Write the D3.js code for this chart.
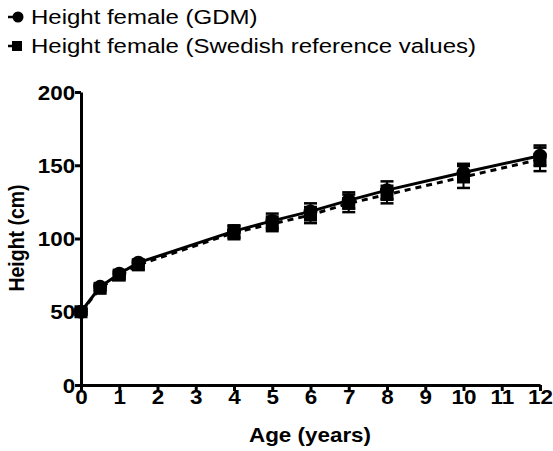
<!DOCTYPE html>
<html><head><meta charset="utf-8">
<script src="https://cdn.jsdelivr.net/npm/d3@7"></script>
<style>body{margin:0;background:#fff}svg{display:block;font-family:"Liberation Sans",Arial,sans-serif}</style>
</head><body>
<script>
const ages = [0, 0.5, 1, 1.5, 4, 5, 6, 7, 8, 10, 12];
const gdmHeight = [50, 67, 76, 83.5, 105, 112, 118.5, 126, 133, 145, 156.5];
const gdmSD = [2, 2, 2, 2, 4, 5, 5.5, 5.5, 6, 6, 7];
const swedHeight = [50, 66, 75, 82, 104, 110, 116, 124, 130, 142, 154];
const swedSD = [2, 2, 2.5, 3, 4.5, 5, 5.5, 6, 6, 7.5, 8];
const xTicks = [0,1,2,3,4,5,6,7,8,9,10,11,12];
const yTicks = [0,50,100,150,200];
const legendLabels = ["Height female (GDM)", "Height female (Swedish reference values)"];

const W = 553, H = 451;
const SX = 1.15;
const svg = d3.select("body").append("svg").attr("width", W).attr("height", H);
const x = d3.scaleLinear().domain([0,12]).range([81,540]);
const y = d3.scaleLinear().domain([0,200]).range([385,92]);

// axes
const xa = svg.append("g").attr("transform","translate(0,385)")
  .call(d3.axisBottom(x).tickValues(xTicks).tickSize(6).tickSizeOuter(0).tickFormat(d3.format("d")));
const ya = svg.append("g").attr("transform","translate(81,0)")
  .call(d3.axisLeft(y).tickValues(yTicks).tickSize(6).tickSizeOuter(0));
[xa, ya].forEach(a => {
  a.select(".domain").attr("stroke","#000").attr("stroke-width",3);
  a.selectAll(".tick line").attr("stroke","#000").attr("stroke-width",3);
  a.selectAll("text").attr("fill","#000").attr("font-size","19.5px").attr("font-weight","bold")
   .attr("font-family","'Liberation Sans',Arial,sans-serif").attr("transform",`scale(${SX},1)`);
});
xa.selectAll("text").attr("dy","0.71em").attr("y",5);
ya.selectAll("text").attr("x",-5).attr("dy","0.36em");

svg.append("g").attr("transform",`translate(310,442) scale(${SX},1)`).append("text")
  .attr("text-anchor","middle").attr("font-size","19.5px").attr("font-weight","bold").text("Age (years)");
svg.append("g").attr("transform","translate(24,238) rotate(-90) scale(1,1.12)").append("text").attr("text-anchor","middle")
  .attr("font-size","19.5px").attr("font-weight","bold").text("Height (cm)");

const series = [
  {vals: swedHeight, sd: swedSD, dash: "6,5", shape: "square"},
  {vals: gdmHeight, sd: gdmSD, dash: null, shape: "circle"}
];
const line = d3.line().x(d => x(d[0])).y(d => y(d[1]));
series.forEach(s => {
  const pts = ages.map((a,i) => [a, s.vals[i], s.sd[i]]);
  svg.append("path").datum(pts).attr("d", line).attr("fill","none").attr("stroke","#000")
    .attr("stroke-width",3).attr("stroke-dasharray", s.dash);
  const eb = svg.append("g");
  pts.forEach(p => {
    eb.append("line").attr("x1",x(p[0])).attr("x2",x(p[0])).attr("y1",y(p[1]-p[2])).attr("y2",y(p[1]+p[2]))
      .attr("stroke","#000").attr("stroke-width",2);
    [p[1]-p[2], p[1]+p[2]].forEach(v => eb.append("line").attr("x1",x(p[0])-6.5).attr("x2",x(p[0])+6.5)
      .attr("y1",y(v)).attr("y2",y(v)).attr("stroke","#000").attr("stroke-width",2.5));
  });
});
series.slice().reverse().forEach(s => {
  ages.forEach((a,i) => {
    if (s.shape === "circle") svg.append("circle").attr("cx",x(a)).attr("cy",y(s.vals[i])).attr("r",7).attr("fill","#000");
    else svg.append("rect").attr("x",x(a)-6.5).attr("y",y(s.vals[i])-6.5).attr("width",13).attr("height",13).attr("fill","#000");
  });
});

// legend
const lg = svg.append("g");
[0,1].forEach(i => {
  const cy = 17 + i*29;
  lg.append("line").attr("x1",8).attr("x2",20).attr("y1",cy).attr("y2",cy).attr("stroke","#000").attr("stroke-width",2.5);
  if (i===0) lg.append("circle").attr("cx",18).attr("cy",cy).attr("r",5.5).attr("fill","#000");
  else lg.append("rect").attr("x",12).attr("y",cy-5).attr("width",10).attr("height",10).attr("fill","#000");
  lg.append("g").attr("transform",`translate(31,${cy}) scale(1.17,1)`).append("text")
    .attr("dy","0.35em").attr("font-size","20.5px").text(legendLabels[i]);
});
</script>
</body></html>
